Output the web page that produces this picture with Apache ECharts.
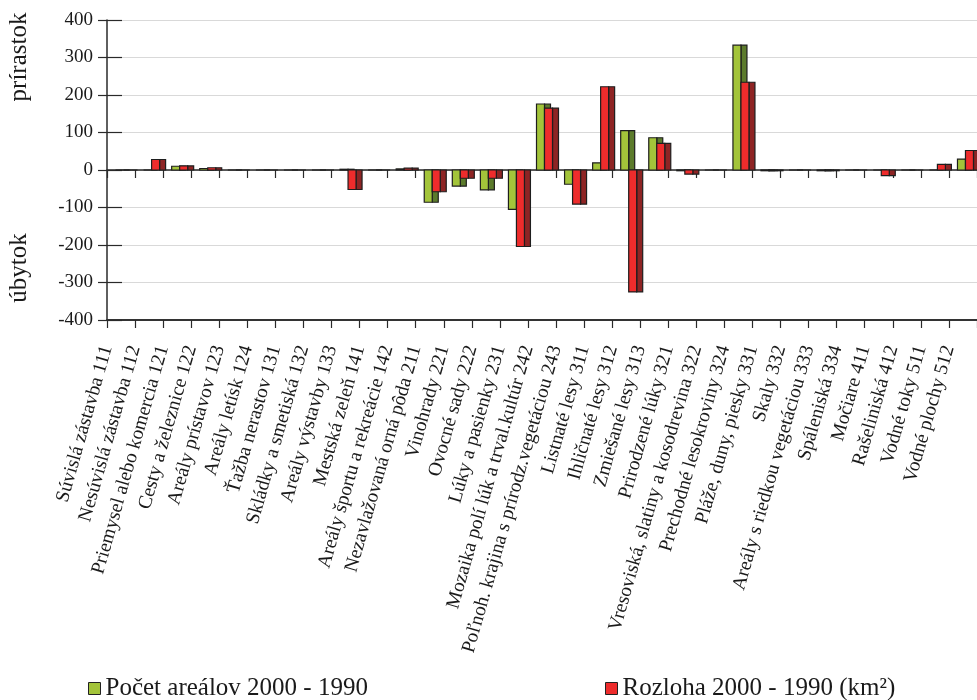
<!DOCTYPE html>
<html>
<head>
<meta charset="utf-8">
<script src="https://cdn.jsdelivr.net/npm/echarts@6/dist/echarts.min.js"></script>
<style>
html,body{margin:0;padding:0;background:#fff;}
#chart{width:977px;height:700px;}
</style>
</head>
<body>
<div id="chart"></div>
<script>
var categories = [
  'Súvislá zástavba 111',
  'Nesúvislá zástavba 112',
  'Priemysel alebo komercia 121',
  'Cesty a železnice 122',
  'Areály prístavov 123',
  'Areály letísk 124',
  'Ťažba nerastov 131',
  'Skládky a smetiská 132',
  'Areály výstavby 133',
  'Mestská zeleň 141',
  'Areály športu a rekreácie 142',
  'Nezavlažovaná orná pôda 211',
  'Vinohrady 221',
  'Ovocné sady 222',
  'Lúky a pasienky 231',
  'Mozaika polí lúk a trval.kultúr 242',
  'Poľnoh. krajina s prírodz.vegetáciou 243',
  'Listnaté lesy 311',
  'Ihličnaté lesy 312',
  'Zmiešané lesy 313',
  'Prirodzené lúky 321',
  'Vresoviská, slatiny a kosodrevina 322',
  'Prechodné lesokroviny 324',
  'Pláže, duny, piesky 331',
  'Skaly 332',
  'Areály s riedkou vegetáciou 333',
  'Spáleniská 334',
  'Močiare 411',
  'Rašeliniská 412',
  'Vodné toky 511',
  'Vodné plochy 512'
];
var countChange = [0, 0, 10, 4, 0, 0, 0, 0, 2, 0, 3, -86, -43, -53, -105, 176, -38, 19, 105, 86, -2, 0, 333, -2, 0, -2, 0, 0, 0, 0, 29];
var areaChange  = [0, 28, 11, 6, 0, 0, 0, 0, -52, 0, 5, -58, -22, -22, -204, 165, -91, 222, -325, 71, -11, 0, 234, -2, 0, -2, 0, -15, 0, 15, 52];
var yTicks = [-400, -300, -200, -100, 0, 100, 200, 300, 400];
var seriesNames = ['Počet areálov 2000 - 1990', 'Rozloha 2000 - 1990 (km²)'];

var SERIF = '"Liberation Serif", "Times New Roman", serif';
var GREEN = '#a3c43a', GREEN_SIDE = '#5c7b2c';
var RED = '#ee2c2c', RED_SIDE = '#8e2424';

function makeRender(front, side, slot) {
  return function (params, api) {
    var idx = api.value(0), val = api.value(1);
    var base = api.coord([idx, 0]);
    var top = api.coord([idx, val]);
    var w = api.size([1, 0])[0];
    var fw = w * 0.285, sw = w * 0.214;
    var x0 = base[0] - w * 0.196 + slot * fw;
    var y = Math.min(base[1], top[1]);
    var h = Math.abs(base[1] - top[1]);
    var st = {stroke: '#1e1e1e', lineWidth: 1.2};
    return {
      type: 'group',
      children: [
        {type: 'rect', shape: {x: x0 + fw, y: y, width: sw, height: h},
          style: Object.assign({fill: side}, st)},
        {type: 'rect', shape: {x: x0, y: y, width: fw, height: h},
          style: Object.assign({fill: front}, st)}
      ]
    };
  };
}

function pairs(arr) { return arr.map(function (v, i) { return [i, v]; }); }

var chart = echarts.init(document.getElementById('chart'));
chart.setOption({
  animation: false,
  backgroundColor: '#ffffff',
  textStyle: {fontFamily: SERIF},
  grid: [
    {left: 107, right: 0, top: 20, height: 300, containLabel: false},
    {left: 93, right: 14, top: 20, height: 300, containLabel: false}
  ],
  xAxis: [
    {
      type: 'category', data: categories, gridIndex: 0,
      axisLine: {onZero: true, lineStyle: {color: '#2a2a2a', width: 1.6}},
      axisTick: {show: true, interval: 0, length: 8, lineStyle: {color: '#2a2a2a', width: 1.2}},
      axisLabel: {show: false},
      splitLine: {show: false}
    },
    {
      type: 'category', data: categories, gridIndex: 0, position: 'bottom',
      axisLine: {onZero: false, lineStyle: {color: '#333', width: 2}},
      axisTick: {show: true, interval: 0, length: 8, lineStyle: {color: '#2a2a2a', width: 1.2}},
      axisLabel: {show: false},
      splitLine: {show: false}
    },
    {
      type: 'category', data: categories, gridIndex: 1, position: 'bottom',
      axisLine: {show: false, onZero: false},
      axisTick: {show: false},
      axisLabel: {show: true, interval: 0, rotate: 74, margin: 26,
        fontFamily: SERIF, fontSize: 19.5, color: '#1a1a1a'},
      splitLine: {show: false}
    }
  ],
  yAxis: [
    {
      type: 'value', min: -400, max: 400, interval: 100, gridIndex: 0,
      axisLine: {show: true, onZero: false, lineStyle: {color: '#2a2a2a', width: 1.5}},
      axisTick: {show: true, inside: false, length: 9, lineStyle: {color: '#2a2a2a', width: 1.2}},
      axisLabel: {show: true, margin: 14, fontFamily: SERIF, fontSize: 19, color: '#1a1a1a',
        formatter: function (v) { return yTicks.indexOf(v) >= 0 ? String(v) : ''; }},
      splitLine: {show: true, lineStyle: {color: '#d9d9d9', width: 1.2}}
    },
    {
      type: 'value', min: -400, max: 400, interval: 100, gridIndex: 0, position: 'left',
      axisLine: {show: false},
      axisTick: {show: true, inside: true, length: 15, lineStyle: {color: '#2a2a2a', width: 1.2}},
      axisLabel: {show: false},
      splitLine: {show: false}
    },
    {
      type: 'value', min: -400, max: 400, interval: 100, gridIndex: 1, show: false
    }
  ],
  legend: [
    {
      data: [seriesNames[0]], left: 88, top: 676, padding: 0, icon: 'rect',
      itemWidth: 12, itemHeight: 12, itemGap: 0,
      itemStyle: {borderColor: '#222', borderWidth: 1},
      textStyle: {fontFamily: SERIF, fontSize: 25, color: '#1a1a1a'}
    },
    {
      data: [seriesNames[1]], left: 605, top: 676, padding: 0, icon: 'rect',
      itemWidth: 12, itemHeight: 12, itemGap: 0,
      itemStyle: {borderColor: '#222', borderWidth: 1},
      textStyle: {fontFamily: SERIF, fontSize: 25, color: '#1a1a1a'}
    }
  ],
  graphic: [
    {type: 'text', x: 19, y: 57, rotation: Math.PI / 2,
      style: {text: 'prírastok', font: '25px ' + SERIF, fill: '#1a1a1a', align: 'center', verticalAlign: 'middle'}},
    {type: 'text', x: 19, y: 268, rotation: Math.PI / 2,
      style: {text: 'úbytok', font: '25px ' + SERIF, fill: '#1a1a1a', align: 'center', verticalAlign: 'middle'}}
  ],
  series: [
    {
      name: seriesNames[0], type: 'custom', xAxisIndex: 0, yAxisIndex: 0,
      itemStyle: {color: GREEN},
      renderItem: makeRender(GREEN, GREEN_SIDE, 0),
      encode: {x: 0, y: 1},
      data: pairs(countChange),
      z: 3
    },
    {
      name: seriesNames[1], type: 'custom', xAxisIndex: 0, yAxisIndex: 0,
      itemStyle: {color: RED},
      renderItem: makeRender(RED, RED_SIDE, 1),
      encode: {x: 0, y: 1},
      data: pairs(areaChange),
      z: 4
    }
  ]
});
</script>
</body>
</html>
